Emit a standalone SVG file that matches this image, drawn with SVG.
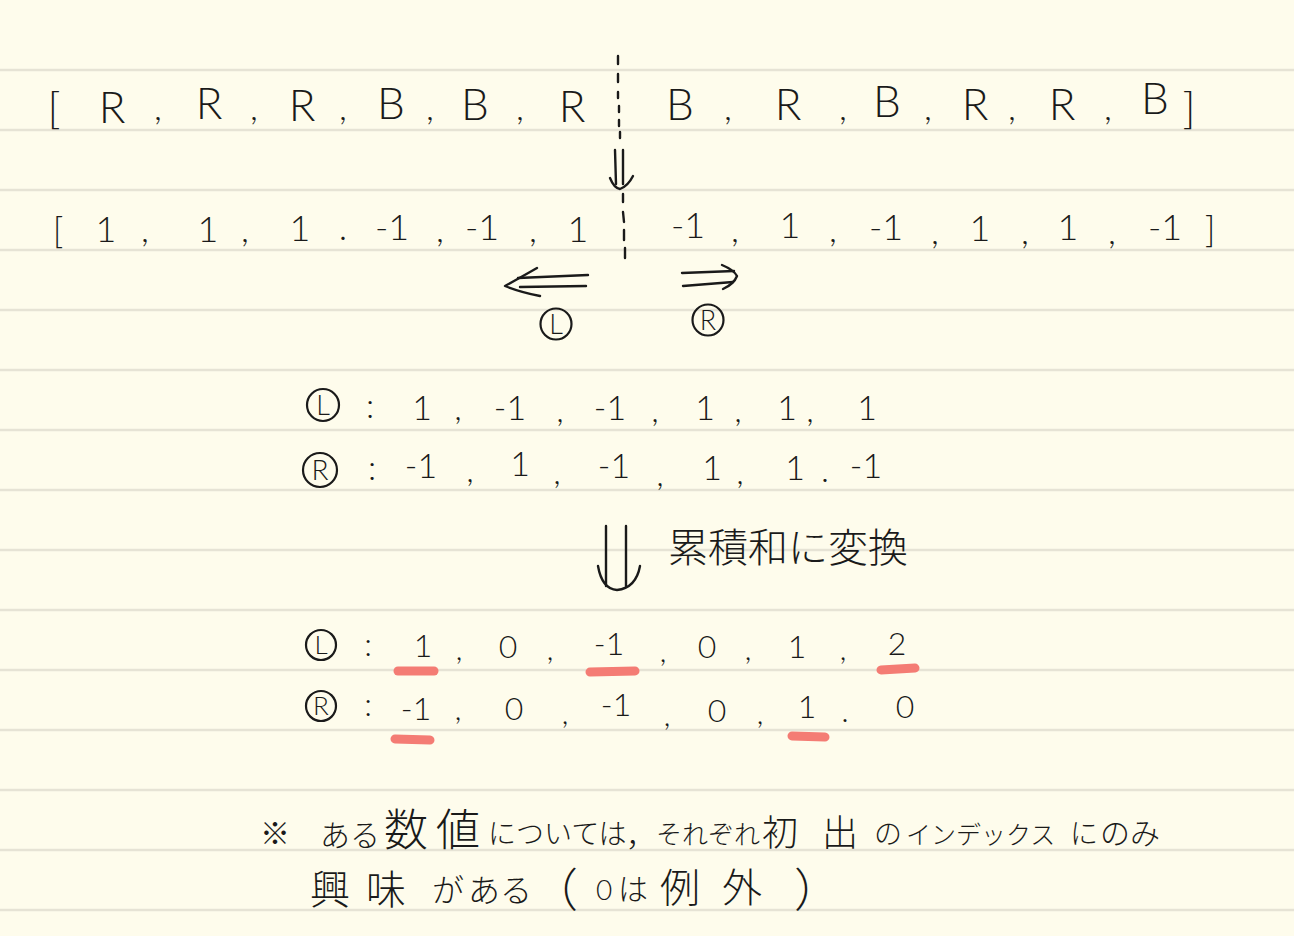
<svg xmlns="http://www.w3.org/2000/svg" width="1294" height="936" viewBox="0 0 1294 936">
<style>
.t{font-family:Lato,"Liberation Sans","Noto Sans CJK JP",sans-serif;font-weight:300;fill:#1a1a1a;text-anchor:middle}
.j{font-family:"Noto Sans CJK JP","Liberation Sans",sans-serif;font-weight:300;fill:#1a1a1a}
.r1{font-size:44px}
.r2{font-size:36px}
.r3{font-size:34px}
.r4{font-size:32px}
.pen{fill:none;stroke:#1a1a1a;stroke-width:2.4;stroke-linecap:round;stroke-linejoin:round}
.rule{stroke:#e6e3d5;stroke-width:2.5}
.hl{stroke:#f47c74;stroke-width:9;stroke-linecap:round}
.cir{fill:none;stroke:#1a1a1a;stroke-width:2.2}
</style>
<rect width="1294" height="936" fill="#fefcec"/>
<g id="rules">
<line class="rule" x1="0" y1="70" x2="1294" y2="70"/><line class="rule" x1="0" y1="130" x2="1294" y2="130"/>
<line class="rule" x1="0" y1="190" x2="1294" y2="190"/><line class="rule" x1="0" y1="250" x2="1294" y2="250"/>
<line class="rule" x1="0" y1="310" x2="1294" y2="310"/><line class="rule" x1="0" y1="370" x2="1294" y2="370"/>
<line class="rule" x1="0" y1="430" x2="1294" y2="430"/><line class="rule" x1="0" y1="490" x2="1294" y2="490"/>
<line class="rule" x1="0" y1="550" x2="1294" y2="550"/><line class="rule" x1="0" y1="610" x2="1294" y2="610"/>
<line class="rule" x1="0" y1="670" x2="1294" y2="670"/><line class="rule" x1="0" y1="730" x2="1294" y2="730"/>
<line class="rule" x1="0" y1="790" x2="1294" y2="790"/><line class="rule" x1="0" y1="850" x2="1294" y2="850"/>
<line class="rule" x1="0" y1="910" x2="1294" y2="910"/>
</g>
<g id="row-colors" class="t r1">
<text x="54" y="124">[</text><text x="112" y="123">R</text><text x="158" y="120" font-size="36">,</text>
<text x="209" y="119">R</text><text x="254" y="120" font-size="36">,</text>
<text x="302" y="121">R</text><text x="343" y="120" font-size="36">,</text>
<text x="391" y="119">B</text><text x="430" y="120" font-size="36">,</text>
<text x="475" y="120">B</text><text x="520" y="120" font-size="36">,</text>
<text x="572" y="122">R</text>
<text x="680" y="120">B</text><text x="728" y="120" font-size="36">,</text>
<text x="788" y="120">R</text><text x="843" y="120" font-size="36">,</text>
<text x="887" y="117">B</text><text x="928" y="120" font-size="36">,</text>
<text x="975" y="120">R</text><text x="1012" y="120" font-size="36">,</text>
<text x="1062" y="120">R</text><text x="1108" y="120" font-size="36">,</text>
<text x="1155" y="114">B</text><text x="1189" y="124">]</text>
</g>
<g id="row-values" class="t r2">
<text x="58" y="243">[</text><text x="106" y="242">1</text><text x="145" y="242">,</text>
<text x="208" y="242">1</text><text x="245" y="242">,</text>
<text x="300" y="241">1</text><text x="343" y="240">.</text>
<text x="392" y="240">-1</text><text x="440" y="242">,</text>
<text x="482" y="240">-1</text><text x="533" y="242">,</text>
<text x="578" y="242">1</text>
<text x="688" y="238">-1</text><text x="735" y="242">,</text>
<text x="790" y="238">1</text><text x="833" y="242">,</text>
<text x="886" y="240">-1</text><text x="935" y="244">,</text>
<text x="980" y="241">1</text><text x="1025" y="244">,</text>
<text x="1068" y="240">1</text><text x="1112" y="244">,</text>
<text x="1165" y="240">-1</text><text x="1210" y="242">]</text>
</g>
<g id="divider" class="pen">
<path d="M618 56 L618 64 M618 74 L618 82 M618 92 L618 98 M619 106 L619 112 M619 120 L619 126 M620 132 L620 138"/>
<path d="M623 194 L623 202 M623 212 L624 222 M624 230 L624 240 M625 248 L625 258"/>
</g>
<g id="arrow-down-small" class="pen">
<path d="M615 150 L616 184 M623 150 L623 184"/>
<path d="M610 178 Q614 188 620 189 Q628 186 633 176"/>
</g>
<g id="arrow-left" class="pen">
<path d="M518 278 L588 275 M520 287 L586 286"/>
<path d="M537 268 Q516 280 505 286 Q520 292 540 296"/>
</g>
<g id="arrow-right" class="pen">
<path d="M682 273 L734 271 M683 286 L733 282"/>
<path d="M722 265 Q734 270 737 276 Q734 284 723 289"/>
</g>
<g id="label-L">
<circle class="cir" cx="556" cy="324" r="15.5"/>
<text class="t" x="556" y="334" font-size="27">L</text>
</g>
<g id="label-R">
<circle class="cir" cx="708" cy="320" r="15.5"/>
<text class="t" x="708" y="330" font-size="27">R</text>
</g>
<g id="row-L" class="t r3">
<circle class="cir" cx="323" cy="405" r="16"/><text x="323" y="415" font-size="27">L</text>
<text x="370" y="418">:</text>
<text x="422" y="420">1</text><text x="458" y="420">,</text>
<text x="510" y="420">-1</text><text x="560" y="422">,</text>
<text x="610" y="420">-1</text><text x="655" y="422">,</text>
<text x="705" y="420">1</text><text x="738" y="422">,</text>
<text x="787" y="420">1</text><text x="810" y="422">,</text>
<text x="867" y="420">1</text>
</g>
<g id="row-R" class="t r3">
<circle class="cir" cx="320" cy="470" r="17"/><text x="320" y="480" font-size="28">R</text>
<text x="372" y="480">:</text>
<text x="421" y="478">-1</text><text x="470" y="482">,</text>
<text x="520" y="476">1</text><text x="557" y="484">,</text>
<text x="614" y="478">-1</text><text x="660" y="486">,</text>
<text x="712" y="480">1</text><text x="740" y="484">,</text>
<text x="795" y="480">1</text><text x="825" y="482">.</text>
<text x="866" y="478">-1</text>
</g>
<g id="arrow-down-big" class="pen">
<path d="M606 526 L606 586 M626 526 L626 586"/>
<path d="M598 566 Q602 589 617 590 Q636 588 640 566"/>
</g>
<g id="label-cumsum">
<text class="j" x="668" y="562" font-size="40">累積和に変換</text>
</g>
<g id="cum-L" class="t r4">
<circle class="cir" cx="321" cy="645" r="15"/><text x="321" y="654" font-size="26">L</text>
<text x="368" y="656">:</text>
<text x="423" y="657">1</text><text x="459" y="660">,</text>
<text x="508" y="658">0</text><text x="550" y="660">,</text>
<text x="609" y="655">-1</text><text x="663" y="662">,</text>
<text x="707" y="658">0</text><text x="748" y="660">,</text>
<text x="797" y="658">1</text><text x="843" y="660">,</text>
<text x="897" y="655">2</text>
</g>
<g id="cum-R" class="t r4">
<circle class="cir" cx="321" cy="706" r="15"/><text x="321" y="715" font-size="26">R</text>
<text x="368" y="716">:</text>
<text x="416" y="720">-1</text><text x="458" y="720">,</text>
<text x="514" y="720">0</text><text x="565" y="724">,</text>
<text x="616" y="716">-1</text><text x="667" y="726">,</text>
<text x="717" y="722">0</text><text x="760" y="724">,</text>
<text x="807" y="718">1</text><text x="845" y="722">.</text>
<text x="905" y="718">0</text>
</g>
<g id="highlights">
<line class="hl" x1="398" y1="671" x2="434" y2="671"/>
<line class="hl" x1="590" y1="672" x2="635" y2="671"/>
<line class="hl" x1="881" y1="670" x2="915" y2="668"/>
<line class="hl" x1="395" y1="739" x2="430" y2="740"/>
<line class="hl" x1="792" y1="736" x2="825" y2="737"/>
</g>
<g id="note" class="j">
<text x="260" y="844" font-size="30">※</text>
<text x="320" y="846" font-size="30">ある</text>
<text x="384" y="846" font-size="44" textLength="96" lengthAdjust="spacing">数値</text>
<text x="488" y="844" font-size="28">については</text>
<text x="626" y="846" font-size="30">，</text>
<text x="656" y="844" font-size="26">それぞれ</text>
<text x="762" y="846" font-size="36">初</text>
<text x="822" y="846" font-size="36">出</text>
<text x="874" y="844" font-size="28">の</text>
<text x="906" y="844" font-size="25">インデックス</text>
<text x="1070" y="844" font-size="28">に</text>
<text x="1100" y="844" font-size="30">のみ</text>
<text x="310" y="904" font-size="40" textLength="96" lengthAdjust="spacing">興味</text>
<text x="432" y="902" font-size="32">が</text>
<text x="468" y="902" font-size="32">ある</text>
<text x="532" y="906" font-size="46">（</text>
<text x="596" y="900" font-size="28" font-family="Lato, 'Liberation Sans', sans-serif">0</text>
<text x="618" y="900" font-size="30">は</text>
<text x="660" y="902" font-size="40">例</text>
<text x="722" y="902" font-size="40">外</text>
<text x="794" y="906" font-size="46">）</text>
</g>
</svg>
